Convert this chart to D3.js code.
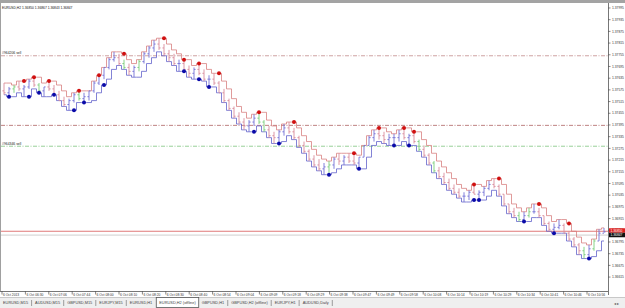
<!DOCTYPE html>
<html>
<head>
<meta charset="utf-8">
<script src="https://cdn.jsdelivr.net/npm/d3@7"></script>
<style>
body { margin: 0; background: #fff; }
text { font-family: "Liberation Sans", Arial, sans-serif; }
</style>
</head>
<body>
<svg width="625" height="308"></svg>
<script>
// bar data, EURUSD H2 (offline)
var highs = [1.3761,1.3759,1.3760,1.3762,1.3760,1.3763,1.3764,1.3761,1.3759,1.3762,
  1.3760,1.3757,1.3754,1.3753,1.3756,1.3757,1.3756,1.3757,1.3762,1.3765,
  1.3769,1.3774,1.3777,1.3776,1.3773,1.3771,1.3770,1.3773,1.3777,1.3780,
  1.3783,1.3784,1.3781,1.3778,1.3776,1.3773,1.3773,1.3770,1.3769,1.3771,
  1.3768,1.3765,1.3766,1.3762,1.3758,1.3753,1.3749,1.3746,1.3743,1.3742,
  1.3745,1.3746,1.3742,1.3739,1.3736,1.3737,1.3740,1.3741,1.3738,1.3734,
  1.3731,1.3727,1.3724,1.3722,1.3720,1.3721,1.3723,1.3725,1.3724,1.3725,
  1.3724,1.3723,1.3729,1.3734,1.3737,1.3738,1.3736,1.3735,1.3735,1.3737,
  1.3738,1.3735,1.3736,1.3732,1.3729,1.3725,1.3721,1.3718,1.3715,1.3712,
  1.3709,1.3707,1.3705,1.3706,1.3709,1.3706,1.3708,1.3711,1.3712,1.3709,
  1.3704,1.3699,1.3697,1.3695,1.3695,1.3697,1.3699,1.3697,1.3693,1.3690,
  1.3689,1.3691,1.3689,1.3685,1.3682,1.3679,1.3677,1.3678,1.3681,1.3686,
  1.36867];
var lows = [1.3755,1.3754,1.3756,1.3757,1.3754,1.3758,1.3759,1.3756,1.3754,1.3757,
  1.3755,1.3752,1.3749,1.3747,1.3751,1.3752,1.3751,1.3752,1.3756,1.3760,
  1.3763,1.3768,1.3772,1.3770,1.3768,1.3765,1.3764,1.3767,1.3771,1.3774,
  1.3777,1.3778,1.3775,1.3772,1.3770,1.3767,1.3767,1.3764,1.3763,1.3765,
  1.3762,1.3759,1.3760,1.3756,1.3751,1.3747,1.3743,1.3740,1.3737,1.3736,
  1.3739,1.3740,1.3736,1.3733,1.3730,1.3731,1.3734,1.3735,1.3732,1.3728,
  1.3725,1.3721,1.3718,1.3716,1.3714,1.3715,1.3717,1.3719,1.3719,1.3720,
  1.3719,1.3717,1.3723,1.3729,1.3731,1.3732,1.3730,1.3729,1.3729,1.3731,
  1.3732,1.3729,1.3730,1.3726,1.3723,1.3719,1.3715,1.3712,1.3709,1.3706,
  1.3704,1.3702,1.3700,1.3701,1.3704,1.3701,1.3703,1.3706,1.3707,1.3703,
  1.3698,1.3694,1.3692,1.3690,1.3690,1.3692,1.3694,1.3692,1.3688,1.3685,
  1.3684,1.3686,1.3684,1.3680,1.3677,1.3673,1.3671,1.3672,1.3675,1.3680,
  1.36843];
var closes = [1.3756,1.3758,1.3759,1.3758,1.3759,1.3762,1.3760,1.3757,1.3759,1.3758,
  1.3755,1.3752,1.3750,1.3752,1.3755,1.3753,1.3754,1.3757,1.3761,1.3765,
  1.3769,1.3773,1.3774,1.3771,1.3769,1.3767,1.3769,1.3772,1.3776,1.3779,
  1.3781,1.3779,1.3776,1.3774,1.3771,1.3771,1.3768,1.3766,1.3768,1.3766,
  1.3763,1.3763,1.3761,1.3756,1.3752,1.3748,1.3744,1.3741,1.3739,1.3741,
  1.3743,1.3741,1.3737,1.3734,1.3733,1.3736,1.3738,1.3736,1.3733,1.3729,
  1.3726,1.3722,1.3719,1.3717,1.3718,1.3719,1.3722,1.3721,1.3723,1.3721,
  1.3720,1.3723,1.3729,1.3733,1.3735,1.3734,1.3732,1.3733,1.3733,1.3735,
  1.3733,1.3734,1.3731,1.3727,1.3724,1.3720,1.3716,1.3713,1.3710,1.3707,
  1.3705,1.3703,1.3703,1.3705,1.3704,1.3705,1.3707,1.3709,1.3708,1.3704,
  1.3699,1.3695,1.3693,1.3691,1.3693,1.3695,1.3695,1.3693,1.3689,1.3686,
  1.3687,1.3688,1.3684,1.3681,1.3678,1.3675,1.3673,1.3676,1.3680,1.3684,
  1.36847];
var firstOpen = 1.3757;
var lastBar = ["1.36850", "1.36867", "1.36843", "1.36847"];
var greenBars = [2,7,15,24,27,51,52,65,83,86,103,105,116,118];
var redDots = [4,6,9,15,19,24,32,36,39,43,51,58,70,75,80,82,94,99,107,113];
var blueDots = [1,5,7,10,14,16,20,36,39,41,50,55,65,71,78,81,94,95,104,110,117];

var levelNames = ["#964206 sell", "", "#964346 sell"];
var levelPrices = [1.3775, 1.37393, 1.37286];
var bid = 1.36850, ask = 1.36838;

var priceTicks = ["1.37995","1.37935","1.37875","1.37815","1.37755","1.37695","1.37635","1.37575",
  "1.37515","1.37455","1.37395","1.37335","1.37275","1.37215","1.37155","1.37095","1.37035",
  "1.36975","1.36915","1.36855","1.36795","1.36735","1.36675","1.36615"];
var timeTicks = ["6 Oct 2013","6 Oct 06:30","6 Oct 07:06","6 Oct 07:44","6 Oct 08:00","6 Oct 08:10",
  "6 Oct 08:20","6 Oct 08:30","6 Oct 08:40","6 Oct 08:54","6 Oct 09:04","6 Oct 09:09","6 Oct 09:18",
  "6 Oct 09:29","6 Oct 09:38","6 Oct 09:47","6 Oct 09:49","6 Oct 09:58","6 Oct 10:08","6 Oct 10:14",
  "6 Oct 10:19","6 Oct 10:29","6 Oct 10:34","6 Oct 10:41","6 Oct 10:46","6 Oct 10:56"];
var tabs = ["EURUSD,M15","AUDUSD,M15","GBPUSD,M15","EURJPY,M15","EURUSD,H1","EURUSD,H2 (offline)",
  "GBPUSD,H1","GBPUSD,H2 (offline)","EURJPY,H1","AUDUSD,Daily"];
var activeTab = 5;

function main() {
  var svg = d3.select("svg");
  var right = 608, bottom = 291;

  var x = d3.scaleLinear().domain([0, highs.length - 1]).range([4, 604]);
  var y = d3.scaleLinear().domain([1.3800, 1.3660]).range([7, 280]);

  // frame
  svg.append("rect").attr("x", 0).attr("y", 0).attr("width", 625).attr("height", 3).attr("fill", "#a3a3a3");
  svg.append("line").attr("x1", 0.5).attr("x2", 0.5).attr("y1", 3).attr("y2", bottom).attr("stroke", "#a0a0a0");

  var plot = svg.append("g");

  // order levels
  levelPrices.forEach(function(p, i) {
    var col = ["#c99898", "#b77474", "#8ccb8c"][i];
    plot.append("line").attr("x1", 1).attr("x2", right).attr("y1", y(p)).attr("y2", y(p))
      .attr("stroke", col).attr("stroke-width", 0.9).attr("stroke-dasharray", "4,1.5,1,1.5");
    if (levelNames[i]) {
      plot.append("text").attr("x", 2).attr("y", y(p) - 1.5).attr("font-size", 3.4).attr("fill", "#222").text(levelNames[i]);
    }
  });

  // bid / ask lines
  plot.append("line").attr("x1", 1).attr("x2", right).attr("y1", y(bid)).attr("y2", y(bid)).attr("stroke", "#e07a7a").attr("stroke-width", 1);
  plot.append("line").attr("x1", 1).attr("x2", right).attr("y1", y(ask) + 1.5).attr("y2", y(ask) + 1.5).attr("stroke", "#cfcfcf").attr("stroke-width", 1);

  // channel lines from highs / lows
  var upper = highs.map(function(h, i) { return i ? Math.max(h, highs[i - 1]) : h; });
  var lower = lows.map(function(l, i) { return i ? Math.min(l, lows[i - 1]) : l; });
  var step = d3.line().x(function(d, i) { return x(i); }).y(function(d) { return y(d); }).curve(d3.curveStep);

  plot.append("path").attr("d", step(upper)).attr("fill", "none").attr("stroke", "#d67a7a").attr("stroke-width", 0.75);
  plot.append("path").attr("d", step(lower)).attr("fill", "none").attr("stroke", "#5a5ac8").attr("stroke-width", 0.75);

  // bars
  var opens = closes.map(function(c, i) { return i ? closes[i - 1] : firstOpen; });
  var bars = plot.selectAll("g.bar").data(highs).enter().append("g").attr("class", "bar")
    .attr("stroke", function(d, i) {
      if (greenBars.indexOf(i) >= 0) return "#7ccf7c";
      return closes[i] >= opens[i] ? "#7472d6" : "#d98c9c";
    })
    .attr("stroke-width", 0.9);
  bars.append("line").attr("x1", function(d, i) { return x(i); }).attr("x2", function(d, i) { return x(i); })
    .attr("y1", function(d) { return y(d); }).attr("y2", function(d, i) { return y(lows[i]); });
  bars.append("line").attr("x1", function(d, i) { return x(i) - 1.6; }).attr("x2", function(d, i) { return x(i); })
    .attr("y1", function(d, i) { return y(opens[i]); }).attr("y2", function(d, i) { return y(opens[i]); });
  bars.append("line").attr("x1", function(d, i) { return x(i); }).attr("x2", function(d, i) { return x(i) + 1.6; })
    .attr("y1", function(d, i) { return y(closes[i]); }).attr("y2", function(d, i) { return y(closes[i]); });

  plot.selectAll("circle.hi").data(redDots).enter().append("circle").attr("class", "hi")
    .attr("cx", function(i) { return x(i); }).attr("cy", function(i) { return y(upper[i]); })
    .attr("r", 2).attr("fill", "#d01010");
  plot.selectAll("circle.lo").data(blueDots).enter().append("circle").attr("class", "lo")
    .attr("cx", function(i) { return x(i); }).attr("cy", function(i) { return y(lower[i]); })
    .attr("r", 2).attr("fill", "#0a0aa8");

  // title
  svg.append("text").attr("x", 2).attr("y", 9).attr("font-size", 3.3).attr("fill", "#111")
    .text("EURUSD,H2  " + lastBar.join(" "));

  // right price axis
  svg.append("rect").attr("x", right).attr("y", 3).attr("width", 625 - right).attr("height", 294).attr("fill", "#fff");
  svg.append("line").attr("x1", right + 0.5).attr("x2", right + 0.5).attr("y1", 3).attr("y2", bottom + 4).attr("stroke", "#777");
  var ax = svg.append("g");
  priceTicks.forEach(function(t) {
    var yy = y(+t);
    ax.append("line").attr("x1", right).attr("x2", right + 2.5).attr("y1", yy).attr("y2", yy).attr("stroke", "#555").attr("stroke-width", 0.7);
    ax.append("text").attr("x", right + 4).attr("y", yy + 1.2).attr("font-size", 3.3).attr("fill", "#333").text(t);
  });
  // price tags
  svg.append("rect").attr("x", right + 1).attr("y", y(bid) - 3).attr("width", 16).attr("height", 4.5).attr("fill", "#e02020");
  svg.append("text").attr("x", right + 2.5).attr("y", y(bid) + 0.4).attr("font-size", 3.3).attr("fill", "#fff").text(lastBar[0]);
  svg.append("rect").attr("x", right + 1).attr("y", y(bid) + 1.5).attr("width", 16).attr("height", 4.5).attr("fill", "#111");
  svg.append("text").attr("x", right + 2.5).attr("y", y(bid) + 4.9).attr("font-size", 3.3).attr("fill", "#fff").text(lastBar[3]);

  // time axis
  svg.append("line").attr("x1", 0).attr("x2", right + 1).attr("y1", bottom + 0.5).attr("y2", bottom + 0.5).attr("stroke", "#777");
  var tx = d3.scaleLinear().domain([0, timeTicks.length - 1]).range([2, 587]);
  timeTicks.forEach(function(t, i) {
    svg.append("line").attr("x1", tx(i)).attr("x2", tx(i)).attr("y1", bottom).attr("y2", bottom + 3.5).attr("stroke", "#555").attr("stroke-width", 0.7);
    svg.append("text").attr("x", tx(i) + 1).attr("y", bottom + 4.5).attr("font-size", 3.3).attr("fill", "#333").text(t);
  });

  // tab bar
  svg.append("rect").attr("x", 0).attr("y", 297).attr("width", 625).attr("height", 11).attr("fill", "#efefef");
  svg.append("line").attr("x1", 0).attr("x2", 625).attr("y1", 297.5).attr("y2", 297.5).attr("stroke", "#c8c8c8");
  var cx = 3;
  tabs.forEach(function(t, i) {
    var g = svg.append("g");
    var txt = g.append("text").attr("x", cx).attr("y", 304.3).attr("font-size", 3.9).attr("fill", "#444").text(t);
    var w = txt.node().getComputedTextLength();
    if (i === activeTab) {
      g.insert("rect", "text").attr("x", cx - 3).attr("y", 297.5).attr("width", w + 6).attr("height", 10)
        .attr("fill", "#fff").attr("stroke", "#555").attr("stroke-width", 0.8);
      cx += w + 6;
    } else {
      cx += w + 3.5;
      if (i + 1 !== activeTab) {
        svg.append("line").attr("x1", cx).attr("x2", cx).attr("y1", 300).attr("y2", 306).attr("stroke", "#777").attr("stroke-width", 0.7);
      }
      cx += 3.5;
    }
  });
  svg.append("text").attr("x", 614).attr("y", 304.5).attr("font-size", 4).attr("fill", "#555").text("\u25C2 \u25B8");
}
main();
</script>
</body>
</html>
